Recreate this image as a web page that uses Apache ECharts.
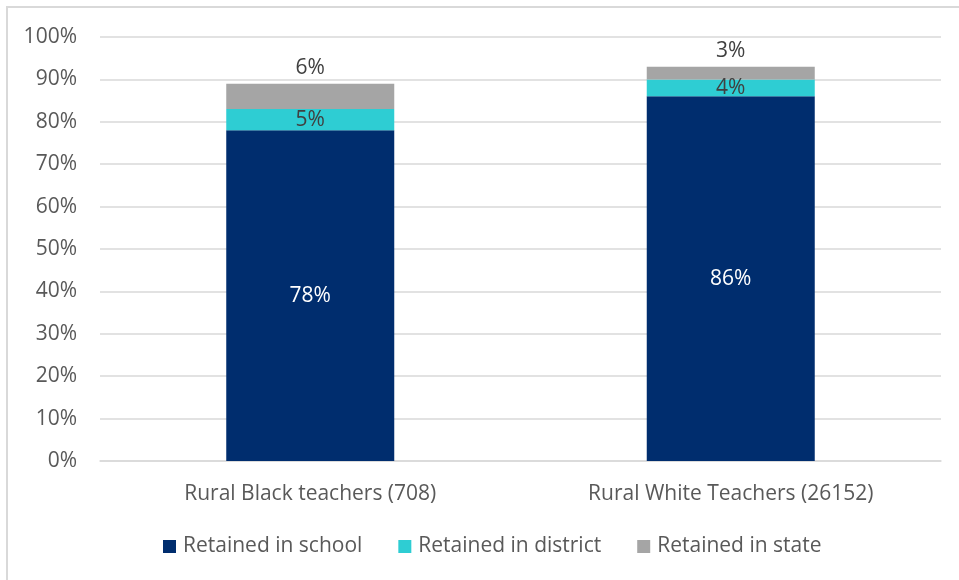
<!DOCTYPE html>
<html>
<head>
<meta charset="utf-8">
<script src="https://cdn.jsdelivr.net/npm/echarts@6/dist/echarts.min.js"></script>
<style>
  html, body { margin: 0; padding: 0; background: #fff; }
  #chart { width: 959px; height: 580px; }
</style>
</head>
<body>
<div id="chart"></div>
<script>
// Retention of rural teachers, stacked by where they stayed
const categories = ['Rural Black teachers (708)', 'Rural White Teachers (26152)'];
const seriesNames = ['Retained in school', 'Retained in district', 'Retained in state'];
const inSchool = [78, 86];
const inDistrict = [5, 4];
const inState = [6, 3];
const yTicks = [0, 10, 20, 30, 40, 50, 60, 70, 80, 90, 100];

const colors = ['#002d6e', '#2ecdd3', '#a5a5a5'];
const font = '"Open Sans", Lato, sans-serif';
const fs = 21;

const chart = echarts.init(document.getElementById('chart'));

function seg(name, data, color, label) {
  return {
    name: name,
    type: 'bar',
    stack: 'total',
    barWidth: 168,
    data: data,
    itemStyle: { color: color },
    label: Object.assign({
      show: true,
      formatter: p => p.value + '%',
      fontFamily: font,
      fontSize: fs
    }, label)
  };
}

chart.setOption({
  animation: false,
  backgroundColor: '#ffffff',
  graphic: [{
    type: 'rect',
    shape: { x: 7, y: 7, width: 1000, height: 1000 },
    style: { fill: 'none', stroke: '#d9d9d9', lineWidth: 2 },
    silent: true
  }],
  grid: { left: 100, right: 18, top: 37, bottom: 119 },
  legend: {
    bottom: 18,
    left: 158,
    itemWidth: 13,
    itemHeight: 13,
    itemGap: 36,
    icon: 'rect',
    textStyle: { fontFamily: font, fontSize: fs, color: '#595959', padding: [0, 0, 0, 2] },
    data: seriesNames
  },
  xAxis: {
    type: 'category',
    data: categories,
    axisLine: { lineStyle: { color: '#d9d9d9', width: 1.5 } },
    axisTick: { show: false },
    axisLabel: { fontFamily: font, fontSize: fs, color: '#595959', margin: 23 }
  },
  yAxis: {
    type: 'value',
    min: yTicks[0],
    max: yTicks[yTicks.length - 1],
    interval: 10,
    axisLine: { show: false },
    axisTick: { show: false },
    splitLine: { lineStyle: { color: '#d9d9d9', width: 1.5 } },
    axisLabel: {
      fontFamily: font, fontSize: fs, color: '#595959', margin: 23,
      formatter: v => v + '%'
    }
  },
  series: [
    seg(seriesNames[0], inSchool, colors[0], { position: 'inside', color: '#ffffff' }),
    seg(seriesNames[1], inDistrict, colors[1], { position: 'inside', color: '#404040' }),
    seg(seriesNames[2], inState, colors[2], { position: 'top', distance: 5, color: '#404040' })
  ]
});
</script>
</body>
</html>
